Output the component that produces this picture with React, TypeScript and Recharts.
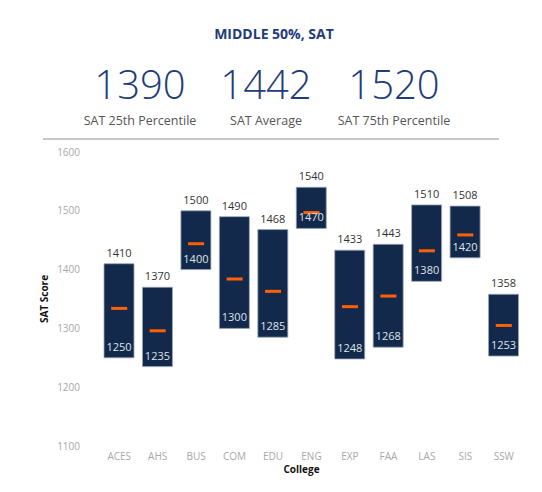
import React from "react"
import { Bar, ComposedChart, LabelList, Scatter, XAxis, YAxis } from "recharts"

const colleges = ["ACES", "AHS", "BUS", "COM", "EDU", "ENG", "EXP", "FAA", "LAS", "SIS", "SSW"]
const p25 = [1250, 1235, 1400, 1300, 1285, 1470, 1248, 1268, 1380, 1420, 1253]
const p75 = [1410, 1370, 1500, 1490, 1468, 1540, 1433, 1443, 1510, 1508, 1358]
const avg = [1334, 1296, 1444, 1384, 1363, 1497, 1337, 1355, 1432, 1459, 1305]
const yTicks = [1100, 1200, 1300, 1400, 1500, 1600]

const summaryValues = [1390, 1442, 1520]
const summaryLabels = ["SAT 25th Percentile", "SAT Average", "SAT 75th Percentile"]
const summaryCenters = [140, 266, 394]

const data = colleges.map((name, i) => ({
  name,
  range: [p25[i], p75[i]],
  avg: avg[i],
}))

const NAVY = "#13294b"
const ORANGE = "#ff5f05"
const FONT = "'Open Sans', 'Noto Sans', sans-serif"

const TopLabel = (props: any) => {
  const { x, y, width, index } = props
  return (
    <text x={x + width / 2} y={y - 7} textAnchor="middle" fontSize={11} fill="#333" fontFamily={FONT}>
      {p75[index]}
    </text>
  )
}

const BottomLabel = (props: any) => {
  const { x, y, width, height, index } = props
  return (
    <text x={x + width / 2} y={y + height - 7} textAnchor="middle" fontSize={11} fill="#dfe3ea" fontFamily={FONT}>
      {p25[index]}
    </text>
  )
}

const AvgMark = (props: any) => {
  const { cx, cy } = props
  return <rect x={cx - 8} y={cy - 1.5} width={16} height={3} fill={ORANGE} />
}

const YLabel = (props: any) => {
  const { viewBox } = props
  const cx = 44
  const cy = viewBox.y + viewBox.height / 2
  return (
    <text x={cx} y={cy} transform={`rotate(-90, ${cx}, ${cy})`} textAnchor="middle" dominantBaseline="central"
      fontSize={10} fontWeight={700} fill="#111" fontFamily={FONT}>
      SAT Score
    </text>
  )
}

const XLabel = (props: any) => {
  const { viewBox } = props
  return (
    <text x={viewBox.x + viewBox.width / 2 - 10} y={viewBox.y + 27} textAnchor="middle"
      fontSize={10} fontWeight={700} fill="#111" fontFamily={FONT}>
      College
    </text>
  )
}

export default function App() {
  return (
    <div style={{ position: "absolute", left: 0, top: 0, width: 542, height: 492, background: "#fff", fontFamily: FONT }}>
      <div style={{ position: "absolute", top: 25, left: 0, width: 548, textAlign: "center", fontSize: 14, fontWeight: 700, color: "#1e3c78", lineHeight: "18px" }}>
        MIDDLE 50%, SAT
      </div>
      {summaryValues.map((v, i) => (
        <React.Fragment key={v}>
          <div style={{ position: "absolute", left: summaryCenters[i] - 80, width: 160, top: 64, height: 40, textAlign: "center",
            fontSize: 40, fontWeight: 300, color: "#1e3c78", lineHeight: "40px" }}>
            {v}
          </div>
          <div style={{ position: "absolute", left: summaryCenters[i] - 80, width: 160, top: 113, height: 16, textAlign: "center",
            fontSize: 12.5, color: "#555", lineHeight: "16px" }}>
            {summaryLabels[i]}
          </div>
        </React.Fragment>
      ))}
      <div style={{ position: "absolute", top: 138, left: 43, width: 456, height: 2, background: "#c8c8c8" }} />
      <div style={{ position: "absolute", top: 0, left: 0 }}>
        <ComposedChart width={542} height={492} data={data} margin={{ top: 152, right: 19, left: 40, bottom: 16 }}>
          <XAxis
            dataKey="name"
            height={30}
            axisLine={false}
            tickLine={false}
            tickMargin={1}
            tick={{ fontSize: 10, fill: "#a8a8a8", fontFamily: FONT }}
            label={<XLabel />}
          />
          <YAxis
            width={60}
            domain={[1100, 1600]}
            ticks={yTicks}
            axisLine={false}
            tickLine={false}
            tickMargin={14}
            tick={{ fontSize: 10, fill: "#a8a8a8", fontFamily: FONT }}
            label={<YLabel />}
          />
          <Bar dataKey="range" fill={NAVY} stroke="#9aa6b8" strokeWidth={0.8} barSize={30} isAnimationActive={false}>
            <LabelList content={<TopLabel />} />
            <LabelList content={<BottomLabel />} />
          </Bar>
          <Scatter dataKey="avg" shape={<AvgMark />} isAnimationActive={false} />
        </ComposedChart>
      </div>
    </div>
  )
}
